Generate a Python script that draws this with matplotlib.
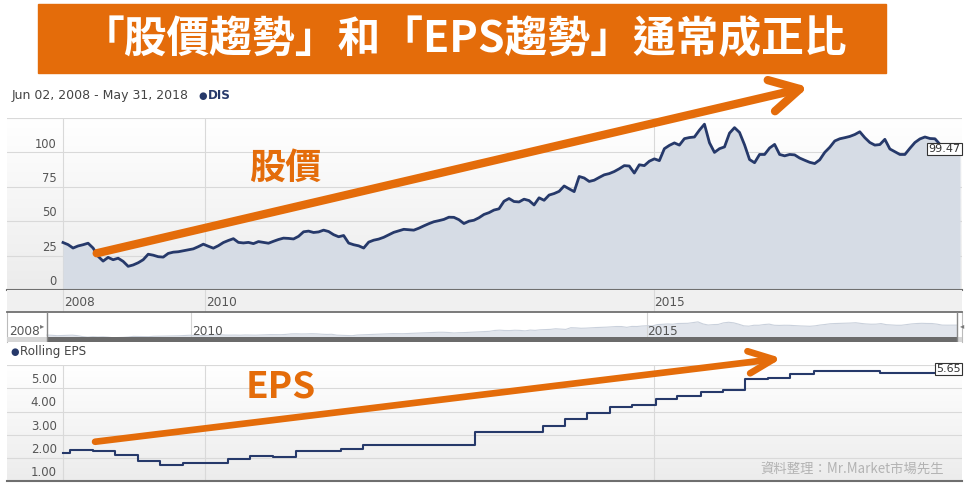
import matplotlib.pyplot as plt
import numpy as np
from matplotlib.colors import LinearSegmentedColormap
from matplotlib.patches import Rectangle

# DIS closing price, evenly spaced from Jun 02 2008 to May 31 2018
price = [
    34.5, 33.0, 30.5, 32.0, 32.9, 34.0, 30.5, 24.5, 21.0, 23.7,
    22.0, 23.1, 20.8, 17.2, 18.2, 19.8, 22.0, 26.0, 25.3, 24.2,
    23.9, 26.6, 27.5, 27.8, 28.5, 29.2, 29.9, 31.5, 33.3, 31.8,
    30.4, 32.2, 34.5, 36.0, 37.3, 34.6, 34.2, 34.6, 33.7, 35.2,
    34.6, 34.0, 35.4, 36.7, 37.7, 37.5, 37.1, 39.0, 42.3, 42.8,
    41.8, 42.2, 43.5, 42.5, 40.2, 38.7, 39.6, 34.1, 32.9, 32.1,
    30.5, 34.8, 36.2, 37.0, 38.3, 40.1, 41.9, 43.0, 44.1, 43.8,
    43.5, 44.9, 46.6, 48.2, 49.6, 50.4, 51.3, 52.9, 52.8, 51.1,
    48.3, 50.0, 50.7, 52.5, 54.9, 56.2, 58.1, 59.0, 64.5, 66.5,
    64.3, 64.0, 66.0, 65.0, 61.8, 67.0, 65.2, 69.0, 70.1, 71.7,
    75.6, 73.5, 71.5, 82.5, 81.4, 78.9, 79.8, 81.8, 83.7, 84.6,
    86.1, 88.1, 90.4, 90.1, 85.0, 91.0, 90.4, 93.6, 95.3, 94.0,
    102.7, 105.1, 106.9, 105.3, 110.0, 110.8, 111.2, 116.2, 120.5, 107.0,
    100.0, 102.7, 104.0, 114.0, 118.0, 114.5, 105.5, 94.8, 92.5, 98.5,
    98.5, 103.2, 105.8, 98.5, 97.5, 98.5, 98.2, 95.9, 94.3, 92.8,
    91.9, 94.6, 100.0, 103.7, 108.3, 109.9, 110.7, 111.6, 113.0, 115.0,
    110.7, 107.2, 105.3, 105.7, 109.5, 102.5, 100.5, 98.5, 98.5, 103.0,
    107.2, 109.8, 111.2, 110.1, 109.9, 105.8, 99.5, 99.0, 99.5, 99.47,
]
price_start, price_end = 2008.418, 2018.411
price_years = np.linspace(price_start, price_end, len(price))

# rolling EPS, step changes (decimal year, value)
eps_years = [2008.418, 2008.50, 2008.75, 2009.00, 2009.25, 2009.50, 2009.76,
             2010.26, 2010.50, 2010.76, 2011.01, 2011.51, 2011.76, 2013.01,
             2013.76, 2014.01, 2014.26, 2014.51, 2014.76, 2015.02, 2015.26,
             2015.52, 2015.77, 2016.02, 2016.27, 2016.52, 2016.78, 2017.29,
             2017.52, 2018.411]
eps = [2.23, 2.35, 2.30, 2.13, 1.89, 1.71, 1.79,
       1.95, 2.10, 2.06, 2.29, 2.40, 2.55, 3.11,
       3.39, 3.67, 3.92, 4.18, 4.28, 4.53, 4.67,
       4.83, 4.93, 5.39, 5.45, 5.60, 5.74, 5.75,
       5.65, 5.65]

x_ticks = [price_start, 2010, 2015]
x_labels = ["2008", "2010", "2015"]
nav_ticks = [2008, 2010, 2015]
price_yticks = [0, 25, 50, 75, 100]
eps_yticks = [1, 2, 3, 4, 5]

ORANGE = "#e46c0a"
NAVY = "#26396a"
FILL = "#d6dce5"
GRID = "#d9d9d9"
TXT = "#555555"
CJK = ["Noto Sans CJK TC", "DejaVu Sans"]

W, H = 969, 497
fig = plt.figure(figsize=(W / 100, H / 100), dpi=100)


def rect(l, t, r, b):
    return [l / W, 1 - b / H, (r - l) / W, (b - t) / H]


def gradient(ax, top="#ffffff", bottom="#ececec"):
    cm = LinearSegmentedColormap.from_list("g", [bottom, top])
    ax.imshow(np.linspace(0, 1, 64).reshape(-1, 1), cmap=cm, origin="lower",
              extent=[0, 1, 0, 1], transform=ax.transAxes, aspect="auto", zorder=0)


XLIM = (2007.794, 2018.433)

# banner
fig.patches.append(Rectangle((38 / W, 1 - 73 / H), 848 / W, 69 / H,
                             transform=fig.transFigure, color=ORANGE))
fig.text(464 / W, 1 - 39 / H, "「股價趨勢」和「EPS趨勢」通常成正比", ha="center", va="center",
         fontsize=30.8, fontweight="bold", color="white", family=CJK)

# header
fig.text(11.5 / W, 1 - 96 / H, "Jun 02, 2008 - May 31, 2018", ha="left", va="center",
         fontsize=9, color="#444444")
fig.text(198 / W, 1 - 96 / H, "●", ha="left", va="center", fontsize=7, color=NAVY)
fig.text(208 / W, 1 - 96 / H, "DIS", ha="left", va="center", fontsize=8.6,
         fontweight="bold", color=NAVY)

# PRICE
ax = fig.add_axes(rect(7, 118, 962, 290))
gradient(ax)
ax.fill_between(price_years, price, 0, color=FILL, lw=0, zorder=2)
ax.plot(price_years, price, color=NAVY, lw=2.0, zorder=3)
for v in [25, 50, 75, 100, 125]:
    ax.axhline(v, color=GRID, lw=0.8, zorder=1)
for yr in x_ticks:
    ax.axvline(yr, color=GRID, lw=0.8, zorder=1)
ax.axhline(0, color="#6f6f6f", lw=1.5, zorder=4, clip_on=False)
for v in price_yticks:
    ax.annotate(str(v), xy=(0.052, v), xycoords=("axes fraction", "data"),
                xytext=(0, 6), textcoords="offset points", ha="right", va="center",
                fontsize=8.3, color=TXT)
ax.annotate(f"{price[-1]:.2f}", xy=(price_years[-1], price[-1]), xytext=(0.5, 3),
            textcoords="offset points", ha="right", va="center", fontsize=8, color="#333333",
            bbox=dict(boxstyle="square,pad=0.1", fc="white", ec="#333333", lw=0.8), zorder=6)
ax.annotate("", xy=(2016.72, 147.5), xytext=(2008.793, 26.7),
            arrowprops=dict(arrowstyle="->,head_length=2.1,head_width=1.15", color=ORANGE,
                            lw=6, shrinkA=0, shrinkB=0, mutation_scale=10,
                            capstyle="round", joinstyle="round"),
            annotation_clip=False, zorder=7)
ax.set_xlim(*XLIM)
ax.set_ylim(0, 125)
ax.axis("off")

fig.text(285 / W, 1 - 168 / H, "股價", ha="center", va="center", fontsize=26,
         fontweight="bold", color=ORANGE, family=CJK)

# x label band
axb = fig.add_axes(rect(7, 290, 962, 312))
axb.set_facecolor("#f0f0f0")
for yr in x_ticks:
    axb.axvline(yr, color=GRID, lw=0.8)
for yr, lab in zip(x_ticks, x_labels):
    axb.annotate(lab, xy=(yr, 0.45), xytext=(0.5, 0), textcoords="offset points",
                 ha="left", va="center", fontsize=8.7, color=TXT)
axb.set_xlim(*XLIM)
axb.set_ylim(0, 1)
axb.set_xticks([])
axb.set_yticks([])
for s in axb.spines.values():
    s.set_visible(False)

# NAVIGATOR
axn = fig.add_axes(rect(7, 312, 962, 342))
NXL = (2007.979, 2018.462)
NB, NT, NFLOOR = -10.6, 185, 22
axn.fill_between(price_years, price, NFLOOR, color="#e1e5ec", lw=0, zorder=1)
axn.plot(price_years, price, color="#cad1dc", lw=0.8, zorder=2)
for yr in nav_ticks[1:]:
    axn.axvline(yr, color="#d4d4d4", lw=0.8, zorder=1)
for yr, lab in zip(nav_ticks, x_labels):
    axn.annotate(lab, xy=(yr, 0.34), xycoords=("data", "axes fraction"),
                 xytext=(0.5, 0), textcoords="offset points",
                 ha="left", va="center", fontsize=8.7, color=TXT, zorder=3)
axn.fill_between(NXL, NB, NFLOOR, color="#d6d6d6", lw=0, zorder=4)
axn.fill_between([price_start, price_end], NB, NFLOOR, color="#6b6b6b", lw=0, zorder=5)
axn.axvline(price_start, color="#888888", lw=1, zorder=5)
axn.axvline(price_end, color="#888888", lw=1, zorder=5)
axn.annotate("▸", xy=(price_start, 0.55), xycoords=("data", "axes fraction"),
             xytext=(-2, 0), textcoords="offset points", ha="right", va="center",
             fontsize=6, color="#777777")
axn.annotate("◂", xy=(price_end, 0.55), xycoords=("data", "axes fraction"),
             xytext=(2, 0), textcoords="offset points", ha="left", va="center",
             fontsize=6, color="#777777")
axn.set_xlim(*NXL)
axn.set_ylim(NB, NT)
axn.set_xticks([])
axn.set_yticks([])
for k, s in axn.spines.items():
    s.set_color("#bbbbbb")
    s.set_linewidth(0.8)
axn.spines["top"].set_color("#707070")
axn.spines["top"].set_linewidth(1.3)
axn.spines["bottom"].set_visible(False)

# EPS header
fig.text(10.5 / W, 1 - 352 / H, "●", ha="left", va="center", fontsize=7, color=NAVY)
fig.text(20 / W, 1 - 352 / H, "Rolling EPS", ha="left", va="center", fontsize=8.6,
         color="#444444")

# EPS
axe = fig.add_axes(rect(7, 365, 962, 481.3))
gradient(axe)
axe.step(eps_years, eps, where="post", color=NAVY, lw=1.5, zorder=3)
for v in [2, 3, 4, 5, 6]:
    axe.axhline(v, color=GRID, lw=0.8, zorder=1)
for yr in x_ticks:
    axe.axvline(yr, color=GRID, lw=0.8, zorder=1)
axe.axhline(1, color="#6f6f6f", lw=1.5, zorder=4, clip_on=False)
for v in eps_yticks:
    axe.annotate(f"{v:.2f}", xy=(0.052, v), xycoords=("axes fraction", "data"),
                 xytext=(0, 6.2), textcoords="offset points", ha="right", va="center",
                 fontsize=8.5, color=TXT)
axe.annotate(f"{eps[-1]:.2f}", xy=(eps_years[-1], eps[-1]), xytext=(0.5, 3),
             textcoords="offset points", ha="right", va="center", fontsize=8, color="#333333",
             bbox=dict(boxstyle="square,pad=0.1", fc="white", ec="#333333", lw=0.8), zorder=6)
axe.annotate("", xy=(2016.425, 6.29), xytext=(2008.775, 2.70),
             arrowprops=dict(arrowstyle="->,head_length=1.8,head_width=0.8", color=ORANGE,
                             lw=4.8, shrinkA=0, shrinkB=0, mutation_scale=10,
                             capstyle="round", joinstyle="round"),
             annotation_clip=False, zorder=7)
axe.set_xlim(*XLIM)
axe.set_ylim(1, 6)
axe.axis("off")

fig.text(281 / W, 1 - 387 / H, "EPS", ha="center", va="center", fontsize=26.5,
         fontweight="bold", color=ORANGE, family=CJK)

fig.text(944 / W, 1 - 470 / H, "資料整理：Mr.Market市場先生", ha="right", va="center",
         fontsize=9.6, color="#b3b3b3", family=CJK)

fig.savefig("out.png", dpi=100)
